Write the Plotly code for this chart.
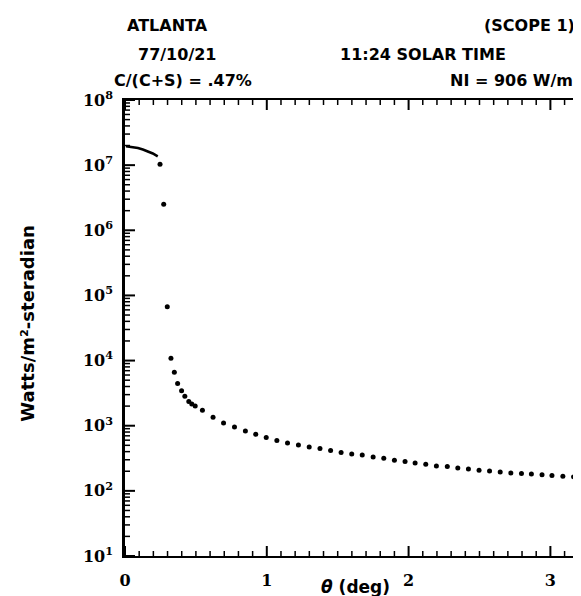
import math
import plotly.graph_objects as go

# Continuous solar-disk curve (theta in deg, radiance W/m^2-sr)
curve_theta = [0.007, 0.049, 0.091, 0.126, 0.161, 0.196, 0.231]
curve_radiance = [1.95e7, 1.90e7, 1.83e7, 1.74e7, 1.63e7, 1.51e7, 1.36e7]

# Discrete circumsolar points
dot_theta = [0.247, 0.273, 0.298, 0.324, 0.348, 0.371, 0.399, 0.422, 0.450, 0.471,
             0.495, 0.546, 0.621, 0.695, 0.772, 0.849, 0.922, 0.996, 1.071, 1.146,
             1.223, 1.299, 1.375, 1.450, 1.524, 1.599, 1.673, 1.750, 1.825, 1.900,
             1.975, 2.046, 2.121, 2.196, 2.273, 2.347, 2.422, 2.497, 2.571, 2.646,
             2.721, 2.796, 2.866, 2.941, 3.011, 3.088, 3.163]
dot_radiance = [1.03e7, 2.5e6, 6.7e4, 1.09e4, 6.6e3, 4.45e3, 3.43e3, 2.84e3, 2.35e3, 2.16e3,
                2.0e3, 1.73e3, 1.35e3, 1.10e3, 959, 832, 740, 659, 593, 544,
                507, 472, 447, 416, 387, 369, 356, 332, 317, 295,
                282, 268, 256, 241, 236, 225, 217, 207, 202, 195,
                188, 184, 182, 176, 172, 168, 164]

x_ticks = [0, 1, 2, 3]
x_minor = [i / 10 for i in range(1, 33) if i % 10]
y_exponents = [1, 2, 3, 4, 5, 6, 7, 8]
y_minor_mult = [2, 3, 4, 5, 6, 7, 8, 9]

title_left = ["ATLANTA", "77/10/21", "C/(C+S) = .47%"]
title_right = ["(SCOPE 1)", "11:24 SOLAR TIME", "NI = 906 W/m²"]
y_title = "Watts/m²-steradian"
x_title = "<i>θ</i> (deg)"

X_RANGE = [0, 3.23]
Y_RANGE = [1, 8]  # log10

W, H = 581, 596
L, R, T, B = 117, 3, 92, 48
pw, ph = W - L - R, H - T - B

def px(xp):
    return (xp - L) / pw

def py(yp):
    return (H - B - yp) / ph

def ylog_paper(v):
    return (math.log10(v) - Y_RANGE[0]) / (Y_RANGE[1] - Y_RANGE[0])

fig = go.Figure()
fig.add_trace(go.Scatter(x=curve_theta, y=curve_radiance, mode="lines",
                         line=dict(color="black", width=2.5), showlegend=False))
fig.add_trace(go.Scatter(x=dot_theta, y=dot_radiance, mode="markers",
                         marker=dict(color="black", size=5), showlegend=False))

tickfont = dict(family="DejaVu Serif", size=16, color="black")

fig.update_xaxes(range=X_RANGE, tickvals=x_ticks, ticktext=[f"<b>{v}</b>" for v in x_ticks],
                 ticks="", ticklabelstandoff=9,
                 showline=True, linewidth=2, linecolor="black", mirror=True,
                 showgrid=False, zeroline=False, tickfont=tickfont)
fig.update_yaxes(type="log", range=Y_RANGE,
                 tickvals=[10 ** e for e in y_exponents],
                 ticktext=[f"<b>10<sup>{e}</sup></b>" for e in y_exponents],
                 ticks="", ticklabelstandoff=6,
                 showline=True, linewidth=2.5, linecolor="black", mirror=True,
                 showgrid=False, zeroline=False, tickfont=tickfont)

# Inward tick marks on all four sides (drawn as pixel-sized shapes at tick values)
shapes = []
def xtick(v, length, width):
    for anchor, sign in ((0, 1), (1, -1)):
        shapes.append(dict(type="line", xref="x", yref="paper", ysizemode="pixel",
                           yanchor=anchor, x0=v, x1=v, y0=0, y1=sign * length,
                           line=dict(color="black", width=width)))

def ytick(v, length, width):
    yp = ylog_paper(v)
    for anchor, sign in ((0, 1), (1, -1)):
        shapes.append(dict(type="line", xref="paper", yref="paper", xsizemode="pixel",
                           xanchor=anchor, x0=0, x1=sign * length, y0=yp, y1=yp,
                           line=dict(color="black", width=width)))

for v in x_ticks:
    xtick(v, 10, 2)
for v in x_minor:
    xtick(v, 5, 1.5)
for e in y_exponents:
    ytick(10 ** e, 10, 2)
for e in y_exponents[:-1]:
    for k in y_minor_mult:
        ytick(k * 10 ** e, 5, 1.5)

hfont = dict(family="DejaVu Sans", size=16, color="black")
ann = []
left_pos = [(117, 17), (128, 46), (104, 73)]
right_pos = [(572, 17), (503, 46), (577, 73)]
for txt, (xp, yp) in zip(title_left, left_pos):
    ann.append(dict(text=f"<b>{txt}</b>", x=px(xp), y=py(yp), xref="paper", yref="paper",
                    xanchor="left", yanchor="middle", showarrow=False, font=hfont))
for txt, (xp, yp) in zip(title_right, right_pos):
    ann.append(dict(text=f"<b>{txt}</b>", x=px(xp), y=py(yp), xref="paper", yref="paper",
                    xanchor="right", yanchor="middle", showarrow=False, font=hfont))
ann.append(dict(text=f"<b>{y_title}</b>", x=px(18), y=py(315), xref="paper", yref="paper",
                xanchor="center", yanchor="middle", textangle=-90, showarrow=False,
                font=dict(family="DejaVu Sans", size=18, color="black")))
ann.append(dict(text=f"<b>{x_title}</b>", x=px(349), y=py(579), xref="paper", yref="paper",
                xanchor="center", yanchor="middle", showarrow=False,
                font=dict(family="DejaVu Sans", size=17, color="black")))

fig.update_layout(width=W, height=H, margin=dict(l=L, r=R, t=T, b=B),
                  paper_bgcolor="white", plot_bgcolor="white",
                  annotations=ann, shapes=shapes)

fig.write_html("out.html")
